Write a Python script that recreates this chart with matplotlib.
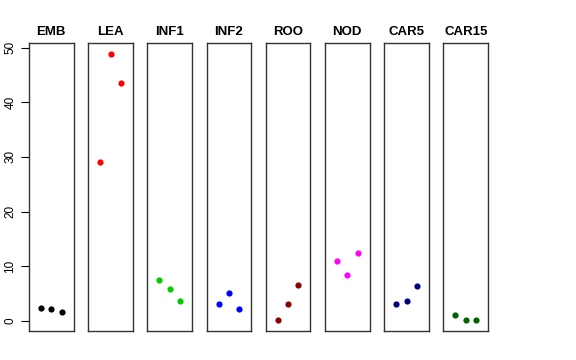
import matplotlib
matplotlib.use("Agg")
import matplotlib.pyplot as plt

plt.rcParams['font.family'] = ['Liberation Sans', 'DejaVu Sans']

tissues = ["EMB", "LEA", "INF1", "INF2", "ROO", "NOD", "CAR5", "CAR15"]
colors = ["black", "red", "#00CD00", "blue", "#8B0000", "magenta", "#000080", "#006400"]
values = [
    [2.4, 2.1, 1.6],
    [29.1, 48.9, 43.6],
    [7.5, 5.75, 3.65],
    [3.05, 5.0, 2.1],
    [0.05, 3.1, 6.6],
    [11.0, 8.35, 12.45],
    [3.05, 3.55, 6.4],
    [1.05, 0.05, 0.05],
]
reps = [1, 2, 3]

W, H = 576, 360
fig = plt.figure(figsize=(W / 100, H / 100), dpi=100)

left0 = 29.0     # left edge of first panel (px)
step = 59.2      # distance between panels (px)
pw = 44.6        # panel width (px)
top, bottom = 43.0, 330.7

for i, (name, col, vals) in enumerate(zip(tissues, colors, values)):
    x0 = left0 + i * step
    ax = fig.add_axes([x0 / W, 1 - bottom / H, pw / W, (bottom - top) / H])
    ax.scatter(reps, vals, s=20, color=col, zorder=3, linewidths=0)
    ax.set_xlim(-0.16, 4.16)
    ax.set_ylim(-1.83, 50.86)
    ax.set_xticks([])
    ax.set_title(name, fontsize=9.5, fontweight='bold', pad=6)
    for sp in ax.spines.values():
        sp.set_color('#333333')
        sp.set_linewidth(1)
    if i == 0:
        ax.set_yticks([0, 10, 20, 30, 40, 50])
        ax.tick_params(axis='y', length=6, labelsize=8.5, pad=3)
        for lab in ax.get_yticklabels():
            lab.set_rotation(90)
            lab.set_va('center')
    else:
        ax.set_yticks([])

fig.savefig("out.png", dpi=100)
